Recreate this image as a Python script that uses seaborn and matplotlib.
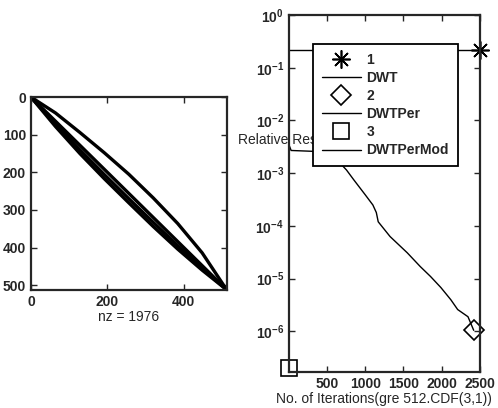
import numpy as np
import pandas as pd
import matplotlib
matplotlib.use("Agg")
import matplotlib.pyplot as plt
import seaborn as sns

# spy pattern of the 512x512 matrix (nonzeros lie on these bands)
spy_cols = [0, 64, 128, 192, 256, 320, 384, 448, 512]
spy_upper_rows = [0, 42, 94, 148, 205, 268, 336, 414, 512]
spy_diag_rows = [0, 64, 128, 192, 256, 320, 384, 448, 512]
spy_low1_rows = [0, 72, 140, 206, 270, 333, 395, 455, 512]
spy_low2_rows = [0, 78, 150, 217, 281, 344, 404, 460, 512]
nz = 1976

# convergence histories
dwt_iter = [0, 500, 1000, 1500, 2000, 2500]
dwt_res = [0.217, 0.217, 0.217, 0.217, 0.217, 0.217]
dwtper_iter = [0, 30, 320, 690, 755, 850, 1000, 1100, 1145, 1170, 1325, 1550,
               1720, 1855, 1990, 2120, 2210, 2345, 2420]
dwtper_res = [3.5e-3, 2.7e-3, 2.6e-3, 1.45e-3, 1.15e-3, 7.5e-4, 3.9e-4, 2.5e-4,
              1.8e-4, 1.2e-4, 6.3e-5, 3.1e-5, 1.7e-5, 1.1e-5, 6.8e-6, 4.0e-6,
              2.6e-6, 1.9e-6, 1.05e-6]
mod_iter = [1]
mod_res = [2e-7]

sns.set_style("ticks")
plt.rcParams['font.family'] = ['Liberation Sans', 'DejaVu Sans']
plt.rcParams['mathtext.default'] = 'regular'
plt.rcParams['xtick.direction'] = 'in'
plt.rcParams['ytick.direction'] = 'in'

fig = plt.figure(figsize=(4.98, 4.08), dpi=100)
ax1 = fig.add_axes([0.0622, 0.289, 0.3936, 0.473])
ax2 = fig.add_axes([0.580, 0.0882, 0.3835, 0.875])

# left: spy plot
for rows in [spy_upper_rows, spy_diag_rows, spy_low1_rows, spy_low2_rows]:
    sns.lineplot(x=spy_cols, y=rows, ax=ax1, color='black', linewidth=2.4,
                 sort=False, estimator=None)
ax1.set_xlim(0, 513)
ax1.set_ylim(513, 0)
ax1.set_xticks([0, 200, 400])
ax1.set_yticks([0, 100, 200, 300, 400, 500])
ax1.set_xlabel('nz = %d' % nz, fontsize=10, labelpad=1)
ax1.set_ylabel('')

# right: residual histories
mk = dict(color='black', markeredgecolor='black', markeredgewidth=1.2,
          linestyle='none', clip_on=False)
sns.lineplot(x=[dwt_iter[-1]], y=[dwt_res[-1]], ax=ax2, marker=(8, 2, 0),
             markersize=13, label='1', **mk)
sns.lineplot(x=dwt_iter, y=dwt_res, ax=ax2, color='black', linewidth=1,
             sort=False, estimator=None, label='DWT')
sns.lineplot(x=[dwtper_iter[-1]], y=[dwtper_res[-1]], ax=ax2, marker='D',
             markersize=10, markerfacecolor='none', label='2', **mk)
sns.lineplot(x=dwtper_iter, y=dwtper_res, ax=ax2, color='black', linewidth=1,
             sort=False, estimator=None, label='DWTPer')
sns.lineplot(x=mod_iter, y=mod_res, ax=ax2, marker='s',
             markersize=11, markerfacecolor='none', label='3', **mk)
sns.lineplot(x=mod_iter, y=mod_res, ax=ax2, color='black', linewidth=1,
             sort=False, estimator=None, label='DWTPerMod')
ax2.set_yscale('log')
ax2.set_xlim(0, 2500)
ax2.set_ylim(1.7e-7, 1)
ax2.set_xticks([500, 1000, 1500, 2000, 2500])
ax2.set_yticks([1e0, 1e-1, 1e-2, 1e-3, 1e-4, 1e-5, 1e-6])
ax2.minorticks_off()
ax2.set_xlabel('No. of Iterations(gre 512.CDF(3,1))', fontsize=10, labelpad=1)
ax2.set_ylabel('Relative Residual', rotation=0, ha='left', va='center', fontsize=10)
ax2.yaxis.set_label_coords(-0.267, 0.65)

leg = ax2.legend(loc='upper left', bbox_to_anchor=(0.126, 0.92), borderaxespad=0,
                 fancybox=False, framealpha=1, edgecolor='black', fontsize=10,
                 handlelength=2.8, handletextpad=0.4, labelspacing=0.3, borderpad=0.65)
leg.get_frame().set_linewidth(1.3)
for t in leg.get_texts():
    t.set_fontweight('bold')

for ax in (ax1, ax2):
    ax.tick_params(which='both', top=True, right=True, length=4, width=1, labelsize=10)
    for lab in ax.get_xticklabels() + ax.get_yticklabels():
        lab.set_fontweight('bold')
    for sp in ax.spines.values():
        sp.set_visible(True)
        sp.set_linewidth(1.6)

fig.savefig('out.png', dpi=100)
